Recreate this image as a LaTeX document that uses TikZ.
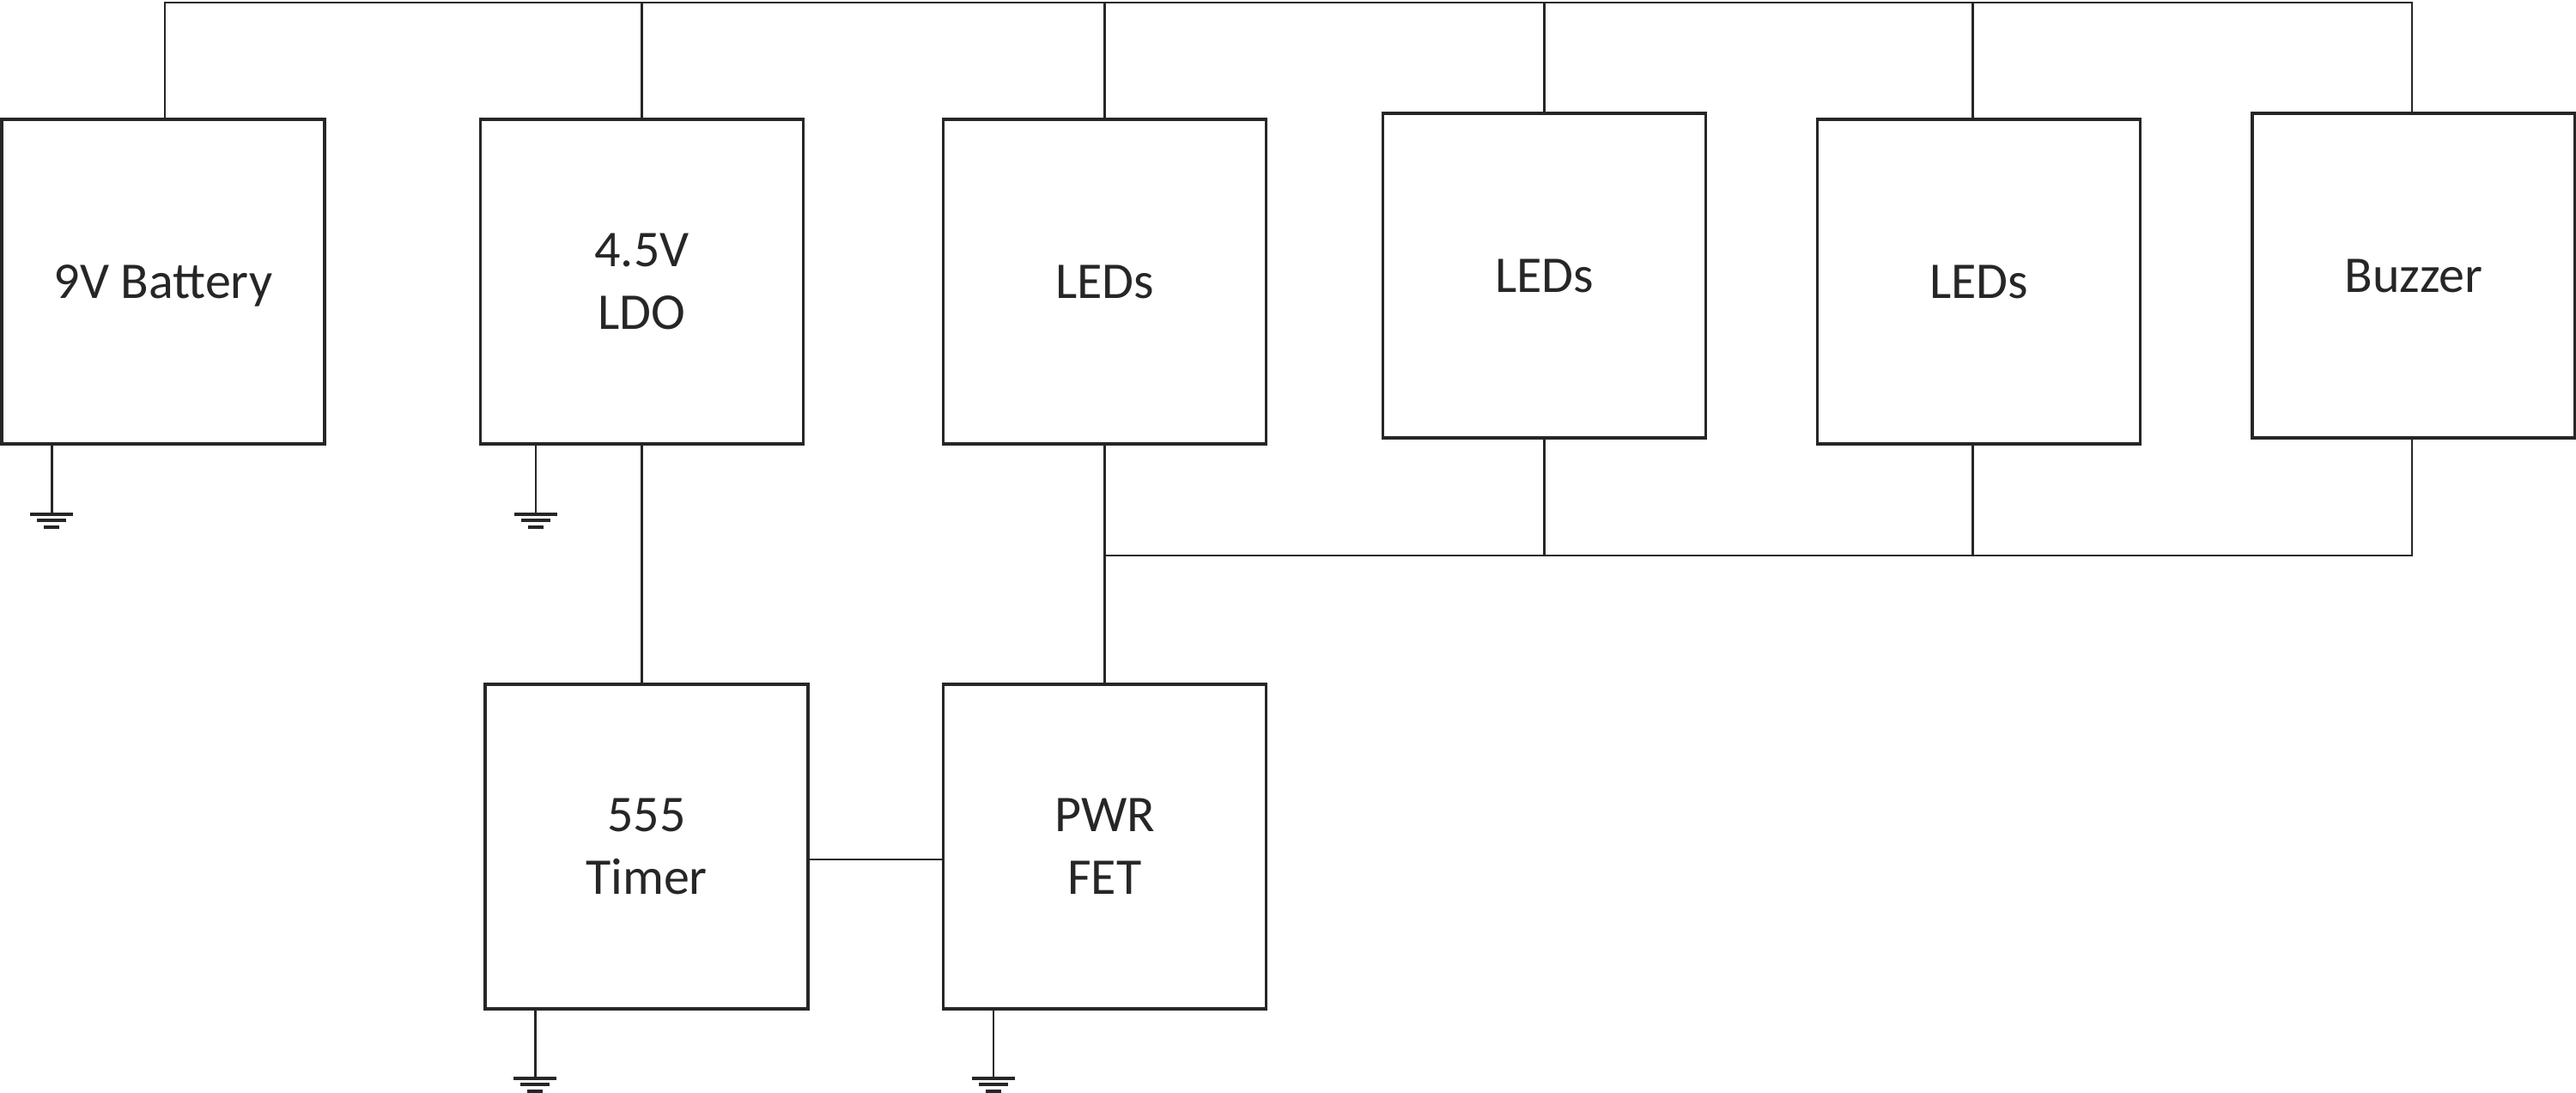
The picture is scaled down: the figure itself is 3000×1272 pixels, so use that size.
\documentclass[tikz,border=0pt]{standalone}
\usepackage{fontspec}
\setmainfont{Carlito}
\usetikzlibrary{calc}
\definecolor{ink}{RGB}{38,38,38}
\tikzset{
  blk/.style={draw=ink, line width=0.78pt, rectangle, minimum width=90.2pt, minimum height=90.7pt,
    inner sep=0pt, align=center, text=ink, font=\fontsize{14.4}{17.5}\selectfont},
  wire/.style={draw=ink, line width=0.68pt},
  gndbar/.style={draw=ink, line width=0.95pt},
  gnd/.pic={
    \draw[gndbar] (-25,0) -- (25,0);
    \draw[gndbar] (-17,7.5) -- (17,7.5);
    \draw[gndbar] (-9,15) -- (9,15);
  }
}
\begin{document}
\begin{tikzpicture}[x=0.24pt,y=-0.24pt]
\useasboundingbox (0,0) rectangle (3000,1272);
\node[blk, text depth=0pt] (bat) at (190,328) {9V Battery};
\node[blk] (ldo) at (747.5,328) {4.5V\\LDO};
\node[blk] (led1) at (1286.5,328) {LEDs};
\node[blk] (led2) at (1798.5,321) {LEDs};
\node[blk] (led3) at (2304.5,328) {LEDs};
\node[blk] (buz) at (2811,321) {Buzzer};
\node[blk] (tim) at (753,986) {555\\Timer};
\node[blk] (fet) at (1286.5,986) {PWR\\FET};
\coordinate (top) at (0,3);
\coordinate (bus) at (0,647);
\coordinate (link) at (0,1001);
\coordinate (l3t) at ($(led3.north)+(-7,0)$);
\coordinate (l3b) at ($(led3.south)+(-7,0)$);
% top supply bus
\draw[wire] ($(bat.north)+(2,0)$) -- ($(bat.north |- top)+(2,0)$) -- ($(buz.north |- top)+(-2,0)$) -- ($(buz.north)+(-2,0)$);
\draw[wire] (ldo.north) -- (ldo.north |- top);
\draw[wire] (led1.north) -- (led1.north |- top);
\draw[wire] (led2.north) -- (led2.north |- top);
\draw[wire] (l3t) -- (l3t |- top);
% bottom return bus
\draw[wire] (led1.south) -- (fet.north);
\draw[wire] (led1.south |- bus) -- ($(buz.south |- bus)+(-2,0)$) -- ($(buz.south)+(-2,0)$);
\draw[wire] (led2.south) -- (led2.south |- bus);
\draw[wire] (l3b) -- (l3b |- bus);
% LDO to timer, timer to FET
\draw[wire] (ldo.south) -- (ldo.south |- tim.north);
\draw[wire] (tim.east |- link) -- (fet.west |- link);
% grounds
\draw[wire] ($(bat.south west)+(60,0)$) -- ++(0,80) pic {gnd};
\draw[wire] ($(ldo.south west)+(66,0)$) -- ++(0,80) pic {gnd};
\draw[wire] ($(tim.south west)+(60,0)$) -- ++(0,79) pic {gnd};
\draw[wire] ($(fet.south west)+(60,0)$) -- ++(0,79) pic {gnd};
\end{tikzpicture}
\end{document}
